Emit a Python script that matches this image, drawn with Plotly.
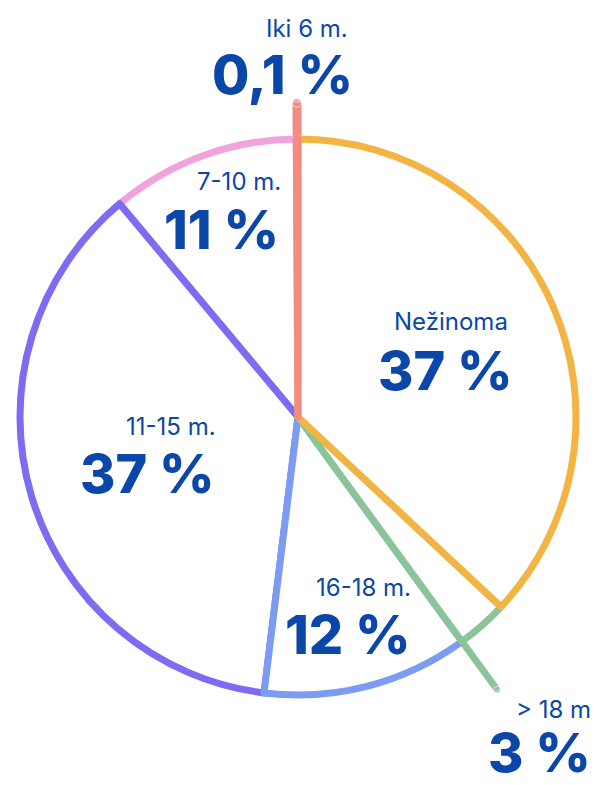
import numpy as np
import plotly.graph_objects as go

# slices in clockwise order, starting at 12 o'clock
labels = ["Nežinoma", "> 18 m", "16-18 m.", "11-15 m.", "7-10 m.", "Iki 6 m."]
shares = [37, 3, 12, 37, 11, 0.1]
pct_text = ["37 %", "3 %", "12 %", "37 %", "11 %", "0,1 %"]
colors = ["#F2B544", "#8CC49A", "#7B9CF2", "#7B6CF2", "#F0A3DC", "#F28C80"]

# the page body keeps its default 8px margin, so the figure is made
# smaller and every screen position is shifted by that margin
PAGE_W, PAGE_H, BODY = 601, 785, 8
W, H = PAGE_W - 2 * BODY, PAGE_H - 2 * BODY

CX, CY, R = 298 - BODY, 417 - BODY, 278   # pie centre / radius in figure px
LINE_W = 7
TEXT_COLOR = "#0A47A8"
FONT = "Inter"

# label / percent anchor positions on screen (x, y from top, x anchor)
label_pos = [(451, 322, "center"), (593, 709, "right"), (364, 587, "center"),
             (171, 427, "center"), (239, 182, "center"), (307, 28, "center")]
pct_pos = [(445, 370, "center"), (593, 752, "right"), (348, 634, "center"),
           (147, 473, "center"), (221, 230, "center"), (282, 75, "center")]

# slices whose edge is pulled past the rim (index -> radius factor)
extend = {1: 1.215, 5: 1.13}

total = sum(shares)
deg = [s / total * 360 for s in shares]

# draw order: pink, purple, blue, green, orange, then salmon on top
order = [4, 3, 2, 1, 0, 5]

fig = go.Figure()

# extension lines (cartesian, unit = pie radius) - drawn under the pie
cum = np.cumsum(deg)
for i, f in extend.items():
    if i == len(shares) - 1:
        ang = np.radians(cum[i] - deg[i] / 2)
    else:
        ang = np.radians(cum[i])
    w = LINE_W + (2 if i == 5 else 0)
    r = np.array([0.95, f])
    fig.add_trace(go.Scatter(
        x=r * np.sin(ang), y=r * np.cos(ang),
        mode="lines+markers",
        line=dict(color=colors[i], width=w),
        marker=dict(size=[0, w], color=colors[i]),
        hoverinfo="skip", showlegend=False,
    ))

# counterclockwise: first slice (pink) sits at [rotation, rotation + its angle]
fig.add_trace(go.Pie(
    labels=[labels[i] for i in order],
    values=[shares[i] for i in order],
    sort=False,
    direction="counterclockwise",
    rotation=-(deg[4] + deg[5]),
    marker=dict(colors=["white"] * len(order),
                line=dict(color=[colors[i] for i in order], width=LINE_W)),
    textinfo="none",
    hoverinfo="skip",
    showlegend=False,
    domain=dict(x=[(CX - R) / W, (CX + R) / W],
                y=[(H - CY - R) / H, (H - CY + R) / H]),
))

for i in range(len(labels)):
    lx, ly, la = label_pos[i]
    px, py, pa = pct_pos[i]
    fig.add_annotation(x=(lx - BODY) / W, y=1 - (ly - BODY) / H,
                       xref="paper", yref="paper",
                       text=labels[i], showarrow=False,
                       xanchor=la, yanchor="middle",
                       font=dict(family=FONT, size=24, color=TEXT_COLOR))
    fig.add_annotation(x=(px - BODY) / W, y=1 - (py - BODY) / H,
                       xref="paper", yref="paper",
                       text=pct_text[i], showarrow=False,
                       xanchor=pa, yanchor="middle",
                       font=dict(family=FONT, size=54, color=TEXT_COLOR, weight=800))

fig.update_layout(
    width=W, height=H,
    margin=dict(l=0, r=0, t=0, b=0),
    paper_bgcolor="white", plot_bgcolor="white",
    xaxis=dict(range=[-CX / R, (W - CX) / R], visible=False, fixedrange=True),
    yaxis=dict(range=[-(H - CY) / R, CY / R], visible=False, fixedrange=True),
)

fig.write_html("out.html")
